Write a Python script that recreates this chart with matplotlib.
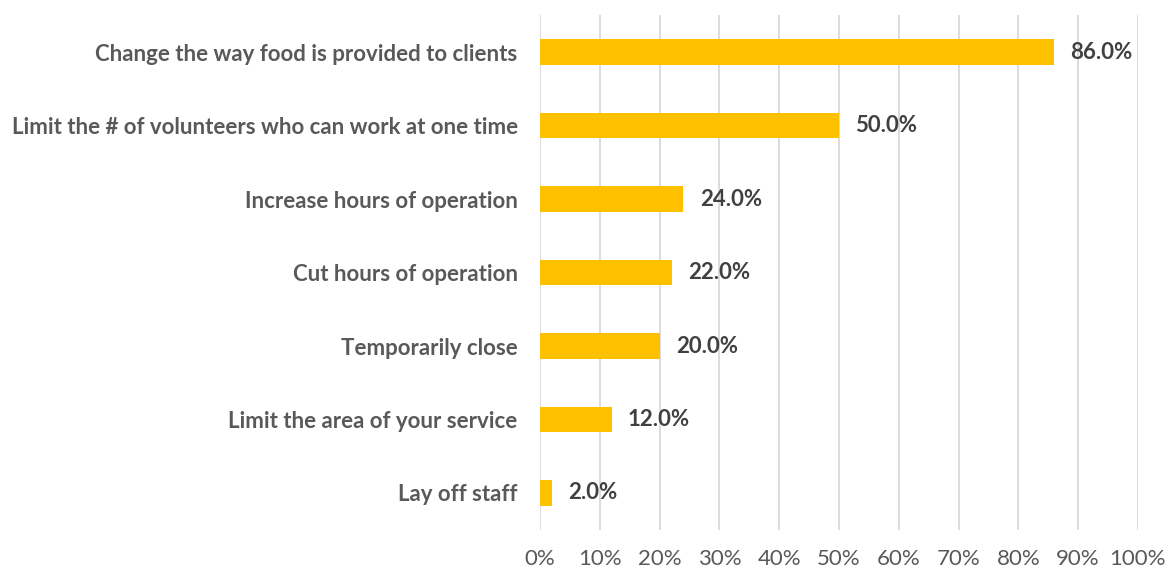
import matplotlib.pyplot as plt
from matplotlib.ticker import FuncFormatter

categories = [
    "Change the way food is provided to clients",
    "Limit the # of volunteers who can work at one time",
    "Increase hours of operation",
    "Cut hours of operation",
    "Temporarily close",
    "Limit the area of your service",
    "Lay off staff",
]
values = [86.0, 50.0, 24.0, 22.0, 20.0, 12.0, 2.0]

plt.rcParams["font.family"] = ["Lato", "DejaVu Sans"]

fig = plt.figure(figsize=(11.67, 5.69), dpi=100)
ax = fig.add_axes([0.4627, 0.069, 0.5124, 0.904])

y = list(range(len(categories)))
ax.barh(y, values, height=0.35, color="#FFC000", zorder=2)

# Подписи значений справа от столбцов
for yi, v in zip(y, values):
    ax.text(v + 2.7, yi, f"{v:.1f}%", va="center", ha="left",
            fontsize=16, fontweight="bold", color="#404040")

ax.set_xlim(0, 100)
ax.set_ylim(len(categories) - 0.5, -0.5)
ax.set_xticks(range(0, 101, 10))
ax.xaxis.set_major_formatter(FuncFormatter(lambda x, _: f"{x:.0f}%"))
ax.set_yticks(y)
ax.set_yticklabels(categories, fontsize=16, fontweight="bold", color="#595959")

ax.grid(axis="x", color="#D9D9D9", linewidth=1.3, zorder=0)
for s in ax.spines.values():
    s.set_visible(False)
ax.tick_params(axis="both", length=0)
ax.tick_params(axis="y", pad=16)
ax.tick_params(axis="x", pad=14, labelsize=16, labelcolor="#595959")

fig.savefig("out.png", dpi=100)
